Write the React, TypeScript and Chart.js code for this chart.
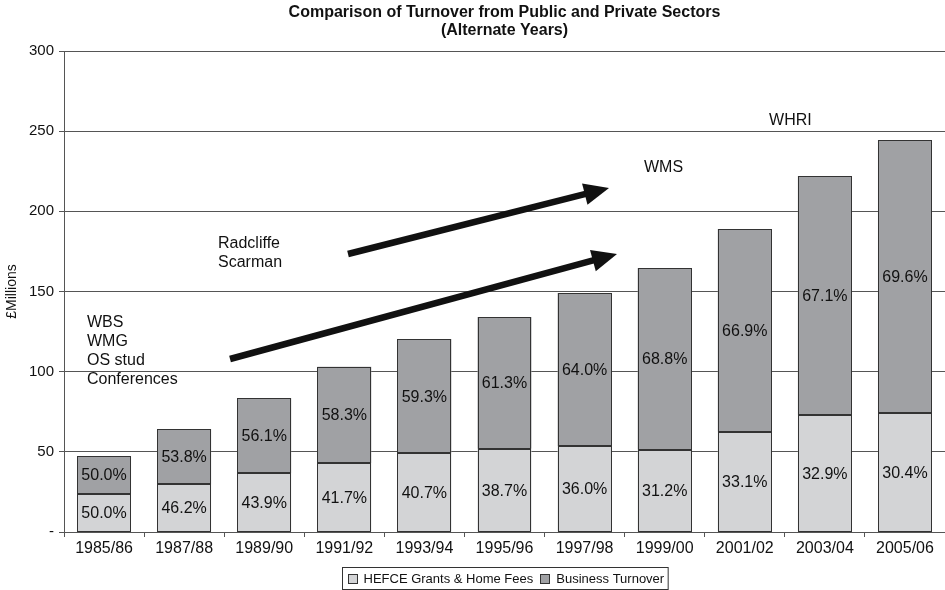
import React, { useEffect, useRef } from 'react';
import { Chart, registerables } from 'chart.js';

Chart.register(...registerables);

const categories = ['1985/86', '1987/88', '1989/90', '1991/92', '1993/94', '1995/96', '1997/98', '1999/00', '2001/02', '2003/04', '2005/06'];
const hefceValues = [23.7, 29.7, 36.7, 43.0, 49.0, 51.9, 53.7, 51.4, 62.6, 73.0, 74.3];
const businessValues = [23.7, 34.6, 46.9, 60.0, 71.4, 82.2, 95.4, 113.3, 126.4, 149.0, 170.2];
const hefceShare = ['50.0%', '46.2%', '43.9%', '41.7%', '40.7%', '38.7%', '36.0%', '31.2%', '33.1%', '32.9%', '30.4%'];
const businessShare = ['50.0%', '53.8%', '56.1%', '58.3%', '59.3%', '61.3%', '64.0%', '68.8%', '66.9%', '67.1%', '69.6%'];
const seriesNames = ['HEFCE Grants & Home Fees', 'Business Turnover'];
const titleLines = ['Comparison of Turnover from Public and Private Sectors', '(Alternate Years)'];
const yAxisTitle = '£Millions';
const yMin = 0;
const yMax = 300;
const yStep = 50;

// annotation texts: x in category-index units, y in £Millions (first line)
const noteTexts = [
  { lines: ['WBS', 'WMG', 'OS stud', 'Conferences'], x: -0.213, y: 130.4 },
  { lines: ['Radcliffe', 'Scarman'], x: 1.423, y: 180.1 },
  { lines: ['WMS'], x: 6.742, y: 227.0 },
  { lines: ['WHRI'], x: 8.303, y: 256.3 },
];
// arrows: from (x0,y0) to (x1,y1) in category-index / £Millions units
const noteArrows = [
  { x0: 1.573, y0: 107.9, x1: 6.405, y1: 173.4 },
  { x0: 3.046, y0: 173.4, x1: 6.305, y1: 214.6 },
];

const FONT = '"Liberation Sans", Arial, Helvetica, sans-serif';
const LIGHT = '#d3d4d6';
const DARK = '#a0a1a4';
const EDGE = '#333333';
const GRID = '#555555';

const segLabels = {
  id: 'segLabels',
  afterDatasetsDraw(chart: any) {
    const ctx = chart.ctx;
    ctx.save();
    // crisp outlines of every bar segment
    ctx.strokeStyle = EDGE;
    ctx.lineWidth = 1;
    chart.data.datasets.forEach((_ds: any, di: number) => {
      const meta = chart.getDatasetMeta(di);
      meta.data.forEach((el: any) => {
        const p = el.getProps(['x', 'y', 'base', 'width'], true);
        const l = Math.round(p.x - p.width / 2) + 0.5;
        const r = Math.round(p.x + p.width / 2) - 0.5;
        const t = Math.round(Math.min(p.y, p.base)) + 0.5;
        const b = Math.round(Math.max(p.y, p.base)) - 0.5;
        ctx.strokeRect(l, t, r - l, b - t);
      });
    });
    ctx.font = `16px ${FONT}`;
    ctx.fillStyle = '#111';
    ctx.textAlign = 'center';
    ctx.textBaseline = 'middle';
    const shares = [hefceShare, businessShare];
    chart.data.datasets.forEach((_ds: any, di: number) => {
      const meta = chart.getDatasetMeta(di);
      meta.data.forEach((el: any, i: number) => {
        const p = el.getProps(['x', 'y', 'base'], true);
        ctx.fillText(shares[di][i], p.x, (p.y + p.base) / 2 + 1);
      });
    });
    ctx.restore();
  },
};

const notes = {
  id: 'notes',
  afterDatasetsDraw(chart: any) {
    const ctx = chart.ctx;
    const xs = chart.scales.x;
    const ys = chart.scales.y;
    ctx.save();
    ctx.font = `16px ${FONT}`;
    ctx.fillStyle = '#111';
    ctx.textAlign = 'left';
    ctx.textBaseline = 'middle';
    noteTexts.forEach((n) => {
      const px = xs.getPixelForValue(n.x);
      const py = ys.getPixelForValue(n.y);
      n.lines.forEach((t, k) => ctx.fillText(t, px, py + k * 19));
    });
    ctx.fillStyle = '#111';
    ctx.strokeStyle = '#111';
    noteArrows.forEach((a) => {
      const sx = xs.getPixelForValue(a.x0);
      const sy = ys.getPixelForValue(a.y0);
      const tx = xs.getPixelForValue(a.x1);
      const ty = ys.getPixelForValue(a.y1);
      const dx = tx - sx;
      const dy = ty - sy;
      const len = Math.hypot(dx, dy);
      const ux = dx / len;
      const uy = dy / len;
      const headLen = 25;
      const halfW = 11;
      ctx.lineWidth = 6.5;
      ctx.lineCap = 'butt';
      ctx.beginPath();
      ctx.moveTo(sx, sy);
      ctx.lineTo(tx - ux * headLen * 0.8, ty - uy * headLen * 0.8);
      ctx.stroke();
      const bx = tx - ux * headLen;
      const by = ty - uy * headLen;
      ctx.beginPath();
      ctx.moveTo(tx, ty);
      ctx.lineTo(bx - uy * halfW, by + ux * halfW);
      ctx.lineTo(bx + uy * halfW, by - ux * halfW);
      ctx.closePath();
      ctx.fill();
    });
    ctx.restore();
  },
};

const boxedLegend = {
  id: 'boxedLegend',
  afterDraw(chart: any) {
    const ctx = chart.ctx;
    const area = chart.chartArea;
    ctx.save();
    ctx.font = `13px ${FONT}`;
    ctx.textBaseline = 'middle';
    ctx.textAlign = 'left';
    const sq = 10;
    const gap = 6;
    const between = 7;
    const padL = 5;
    const padR = 4;
    const widths = chart.data.datasets.map((d: any) => ctx.measureText(d.label).width);
    let total = padL + padR;
    widths.forEach((w: number, i: number) => {
      total += sq + gap + w + (i > 0 ? between : 0);
    });
    const cx = (area.left + area.right) / 2;
    const left = Math.round(cx - total / 2) + 0.5;
    const top = 567.5;
    const h = 22;
    const midY = top + h / 2;
    ctx.strokeStyle = EDGE;
    ctx.lineWidth = 1;
    ctx.strokeRect(left, top, total, h);
    let x = left + padL;
    chart.data.datasets.forEach((d: any, i: number) => {
      if (i > 0) x += between;
      ctx.fillStyle = d.backgroundColor;
      const sy = Math.round(midY - sq / 2) + 0.5;
      const sx = Math.round(x) + 0.5;
      ctx.fillRect(sx, sy, sq - 1, sq - 1);
      ctx.strokeStyle = EDGE;
      ctx.strokeRect(sx, sy, sq - 1, sq - 1);
      x += sq + gap;
      ctx.fillStyle = '#111';
      ctx.fillText(d.label, x, midY + 0.5);
      x += widths[i];
    });
    ctx.restore();
  },
};

export default function App() {
  const ref = useRef<HTMLCanvasElement | null>(null);

  useEffect(() => {
    document.body.style.margin = '0';
    if (!ref.current) return;
    const chart = new Chart(ref.current, {
      type: 'bar',
      data: {
        labels: categories,
        datasets: [
          {
            label: seriesNames[0],
            data: hefceValues,
            backgroundColor: LIGHT,
            borderWidth: 0,
            barPercentage: 0.674,
            categoryPercentage: 1,
          },
          {
            label: seriesNames[1],
            data: businessValues,
            backgroundColor: DARK,
            borderWidth: 0,
            barPercentage: 0.674,
            categoryPercentage: 1,
          },
        ],
      },
      options: {
        responsive: false,
        animation: false,
        devicePixelRatio: 1,
        layout: { padding: { left: 0, right: 0, top: 0, bottom: 0 } },
        plugins: {
          legend: { display: false },
          tooltip: { enabled: false },
          title: {
            display: true,
            text: titleLines,
            fullSize: false,
            color: '#111',
            font: { family: '"Liberation Sans Narrow", "Liberation Sans", Arial, sans-serif', size: 16, weight: 'bold', lineHeight: 1.125 },
            padding: { top: 4, bottom: 11 },
          },
        },
        scales: {
          x: {
            stacked: true,
            grid: { display: true, drawOnChartArea: false, drawTicks: true, tickLength: 5, color: GRID, offset: true },
            border: { display: true, color: GRID, width: 1 },
            ticks: { color: '#111', font: { family: FONT, size: 16 }, padding: 2, maxRotation: 0, autoSkip: false },
            afterFit: (s: any) => { s.height = 58; },
          },
          y: {
            stacked: true,
            min: yMin,
            max: yMax,
            grid: { color: GRID, lineWidth: 1, tickLength: 5, drawTicks: true },
            border: { display: true, color: GRID, width: 1 },
            ticks: {
              stepSize: yStep,
              color: '#111',
              font: { family: FONT, size: 15 },
              padding: 5,
              callback: (v: any) => (Number(v) === 0 ? '-' : String(v)),
            },
            title: {
              display: true,
              text: yAxisTitle,
              color: '#111',
              font: { family: FONT, size: 14 },
              padding: { top: 4, bottom: 0 },
            },
            afterFit: (s: any) => { s.width = 64; },
          },
        },
      },
      plugins: [segLabels, notes, boxedLegend],
    });
    return () => chart.destroy();
  }, []);

  return (
    <div style={{ width: 945, height: 590 }}>
      <canvas ref={ref} width={945} height={590} style={{ display: 'block' }} />
    </div>
  );
}
